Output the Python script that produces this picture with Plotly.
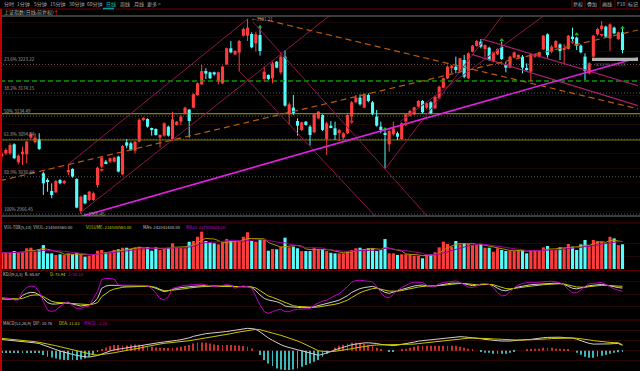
import plotly.graph_objects as go
import pandas as pd

# ---------------- data ----------------
opens = [3064.9, 3070.6, 3070.6, 3086.1, 3055.2, 3068.9, 3068.9, 3097.5, 3089.5, 3095.2,
         3036.3, 3024.3, 3006.0, 3003.7, 3024.9, 3019.1, 3038.0, 3043.8, 3026.6, 2971.6,
         2999.1, 2990.5, 2990.5, 3016.3, 3047.7, 3056.3, 3056.3, 3056.3, 3064.9, 3034.6,
         3089.5, 3087.8, 3075.2, 3090.7, 3127.9, 3129.6, 3113.6, 3112.4, 3097.5, 3101.0,
         3116.4, 3095.2, 3119.3, 3125.0, 3139.3, 3145.6, 3149.0, 3170.8, 3189.1, 3212.0,
         3209.7, 3209.7, 3194.8, 3190.8, 3223.4, 3250.9, 3240.6, 3243.4, 3272.6, 3272.6,
         3275.5, 3259.5, 3273.8, 3198.2, 3205.1, 3199.4, 3228.0, 3209.7, 3236.6, 3137.6,
         3149.0, 3126.1, 3110.7, 3125.0, 3116.4, 3106.7, 3130.7,
         3136.4, 3095.2, 3118.1, 3113.6, 3105.0, 3097.5, 3105.0, 3133.6, 3158.2, 3166.2,
         3149.0, 3170.8, 3158.2, 3133.6, 3116.4, 3105.0, 3086.1, 3103.3, 3105.0, 3095.2,
         3125.0, 3135.3, 3137.6, 3150.7, 3160.5, 3149.0, 3158.2, 3147.9, 3165.0, 3183.3,
         3199.4, 3216.6, 3219.4, 3210.8, 3230.8, 3199.4, 3245.2, 3254.9, 3262.3, 3249.7,
         3252.0, 3228.0, 3240.6, 3253.7, 3222.3, 3217.7, 3234.9, 3234.9, 3236.6, 3216.6,
         3210.8, 3236.6, 3236.6, 3249.2, 3274.9, 3245.2, 3252.0, 3257.7, 3248.0, 3249.7,
         3270.9, 3269.2, 3255.5, 3236.6, 3208.0, 3236.6, 3274.9, 3284.1, 3288.1, 3268.0,
         3286.4, 3266.9, 3278.4]
highs = [3076.4, 3079.2, 3087.8, 3087.8, 3068.9, 3082.1, 3091.8, 3106.7, 3105.0, 3105.0,
         3039.2, 3027.7, 3019.1, 3024.9, 3026.6, 3024.9, 3050.6, 3044.9, 3027.7, 2998.0,
         3000.2, 3006.0, 3004.8, 3047.7, 3064.9, 3059.2, 3063.2, 3064.9, 3066.6, 3084.9,
         3095.2, 3090.7, 3091.8, 3130.7, 3133.0, 3130.7, 3114.7, 3113.6, 3103.3, 3123.8,
         3118.1, 3142.2, 3126.1, 3136.4, 3150.7, 3146.7, 3173.6, 3192.5, 3222.3, 3216.6,
         3210.8, 3210.8, 3210.8, 3221.1, 3252.0, 3263.5, 3248.0, 3265.2, 3286.4, 3301.2,
         3278.4, 3279.5, 3288.1, 3219.4, 3206.2, 3228.0, 3229.1, 3244.0, 3248.0, 3158.2,
         3170.8, 3130.7, 3125.0, 3126.1, 3119.3, 3139.3, 3143.3,
         3137.6, 3125.0, 3126.1, 3125.0, 3112.4, 3106.7, 3137.6, 3160.5, 3170.8, 3171.9,
         3173.6, 3173.6, 3160.5, 3145.0, 3125.0, 3113.6, 3113.6, 3125.0, 3107.8, 3123.8,
         3139.3, 3145.0, 3150.7, 3162.2, 3162.2, 3158.2, 3160.5, 3169.6, 3186.8, 3200.5,
         3221.1, 3222.3, 3236.6, 3234.9, 3239.4, 3244.0, 3256.6, 3265.2, 3266.9, 3257.7,
         3253.7, 3245.2, 3250.9, 3262.3, 3228.0, 3238.3, 3245.2, 3240.6, 3239.4, 3225.1,
         3242.3, 3242.3, 3245.2, 3273.8, 3276.6, 3256.6, 3265.2, 3259.5, 3257.7, 3273.8,
         3286.4, 3270.9, 3257.7, 3242.3, 3226.8, 3273.8, 3286.4, 3297.8, 3289.8, 3293.8,
         3288.1, 3279.5, 3286.4]
lows = [3056.3, 3067.8, 3067.8, 3060.9, 3051.8, 3050.6, 3053.5, 3095.2, 3087.8, 3076.4,
        2999.1, 3004.8, 2993.4, 3002.5, 3017.4, 3017.4, 3033.4, 3028.9, 2976.2, 2966.5,
        2983.1, 2988.8, 2988.8, 3011.7, 3044.9, 3051.8, 3054.0, 3055.2, 3038.0, 3033.4,
        3079.2, 3074.6, 3070.6, 3089.5, 3126.1, 3114.7, 3101.0, 3101.0, 3080.4, 3099.2,
        3099.2, 3091.8, 3118.1, 3119.3, 3137.6, 3097.5, 3147.9, 3169.6, 3187.9, 3198.2,
        3198.2, 3203.9, 3189.1, 3189.7, 3222.3, 3242.3, 3239.4, 3210.8, 3270.9, 3263.5,
        3250.9, 3245.2, 3238.3, 3194.8, 3196.5, 3190.8, 3216.6, 3206.2, 3150.7, 3119.3,
        3136.4, 3101.0, 3109.0, 3118.1, 3083.8, 3105.0, 3129.6,
        3109.0, 3067.8, 3113.6, 3093.5, 3091.8, 3095.2, 3103.3, 3122.1, 3156.5, 3152.5,
        3147.9, 3158.2, 3136.4, 3116.4, 3105.0, 3043.8, 3073.5, 3101.0, 3093.5, 3094.1,
        3119.3, 3133.6, 3136.4, 3149.0, 3139.3, 3146.7, 3137.6, 3146.7, 3163.9, 3182.2,
        3198.2, 3208.0, 3208.0, 3209.7, 3199.4, 3198.2, 3244.0, 3253.7, 3250.9, 3234.9,
        3229.1, 3226.8, 3239.4, 3230.8, 3209.7, 3216.6, 3233.7, 3233.7, 3208.0, 3212.0,
        3194.8, 3234.9, 3234.9, 3248.0, 3234.9, 3242.3, 3250.9, 3230.8, 3225.1, 3248.6,
        3263.5, 3248.0, 3242.3, 3196.5, 3206.2, 3234.9, 3272.6, 3280.6, 3269.2, 3246.3,
        3274.9, 3265.2, 3242.3]
closes = [3070.6, 3076.4, 3084.9, 3062.1, 3066.6, 3073.5, 3090.7, 3103.3, 3097.5, 3078.1,
          3019.1, 3022.6, 2999.1, 3023.1, 3019.1, 3023.1, 3042.0, 3030.6, 2977.4, 2996.2,
          2984.8, 3004.8, 3002.0, 3046.0, 3063.2, 3053.5, 3062.1, 3063.2, 3039.2, 3083.2,
          3083.8, 3076.4, 3090.7, 3127.9, 3130.7, 3116.4, 3110.7, 3102.1, 3102.1, 3122.1,
          3101.0, 3129.0, 3125.0, 3133.6, 3149.0, 3126.1, 3171.9, 3190.8, 3212.0, 3207.4,
          3199.4, 3206.2, 3209.7, 3219.4, 3250.9, 3244.0, 3246.3, 3263.5, 3284.1, 3286.4,
          3252.6, 3274.9, 3246.3, 3210.8, 3198.2, 3225.1, 3217.7, 3236.6, 3152.5, 3154.7,
          3139.3, 3118.1, 3123.8, 3119.3, 3102.1, 3137.6, 3142.2,
          3110.7, 3122.1, 3114.7, 3102.1, 3110.7, 3105.0, 3136.4, 3158.2, 3166.2, 3154.7,
          3171.9, 3160.5, 3137.6, 3118.1, 3110.7, 3103.3, 3109.0, 3113.6, 3099.2, 3122.1,
          3137.6, 3143.3, 3149.6, 3160.5, 3141.0, 3156.5, 3139.3, 3167.9, 3185.1, 3199.4,
          3219.4, 3221.1, 3213.7, 3233.7, 3202.2, 3242.3, 3255.5, 3263.5, 3253.7, 3256.6,
          3230.8, 3244.0, 3249.7, 3232.6, 3217.7, 3236.6, 3244.0, 3239.4, 3217.7, 3213.7,
          3240.6, 3240.6, 3244.0, 3272.6, 3239.4, 3253.7, 3263.5, 3246.3, 3250.9, 3272.6,
          3268.0, 3255.5, 3244.0, 3212.0, 3225.1, 3272.6, 3284.1, 3289.8, 3270.9, 3292.1,
          3276.6, 3278.4, 3248.0]
# volume in units of 1e8 shares
volumes = [1.41, 1.41, 1.41, 1.56, 1.41, 1.50, 1.80, 1.85, 1.50, 1.71,
           2.08, 1.36, 1.36, 1.22, 1.28, 1.22, 1.36, 1.28, 1.41, 1.28,
           1.07, 1.15, 1.28, 1.59, 1.65, 1.45, 1.50, 1.65, 1.71, 1.85,
           1.85, 1.74, 1.88, 1.94, 1.80, 1.88, 1.59, 1.88, 1.65, 1.80,
           1.85, 2.23, 1.88, 1.88, 1.80, 2.37, 2.43, 2.80, 3.24, 2.43,
           2.32, 2.23, 2.14, 2.32, 2.60, 2.43, 2.37, 2.43, 2.80, 3.19,
           2.43, 2.37, 2.60, 2.52, 1.59, 1.74, 1.71, 1.94, 2.72, 1.88,
           1.94, 1.80, 1.56, 1.56, 1.56, 1.85, 1.71,
           1.71, 1.56, 1.41, 1.36, 1.36, 1.36, 1.56, 1.65, 1.80, 1.85,
           1.71, 1.80, 1.80, 1.56, 1.65, 2.60, 1.36, 1.36, 1.22, 1.28,
           1.28, 1.28, 1.15, 1.15, 0.93, 1.28, 1.28, 1.45, 1.88, 2.37,
           2.17, 1.94, 2.43, 2.14, 2.23, 2.17, 2.08, 2.08, 2.14, 1.85,
           1.85, 1.50, 1.80, 1.65, 1.56, 1.56, 1.56, 1.65, 1.65, 1.36,
           1.65, 1.56, 1.56, 1.88, 2.00, 1.65, 1.65, 1.88, 1.85, 2.17,
           1.94, 1.65, 2.14, 2.52, 2.03, 2.52, 2.43, 2.37, 2.23, 2.80,
           2.66, 2.08, 2.145]
k_vals = [34.4, 34.4, 35.4, 33.3, 33.3, 45.8, 52.1, 55.2, 54.2, 46.9,
          36.5, 22.9, 18.7, 18.7, 19.8, 20.8, 22.9, 18.7, 14.6, 12.5,
          14.6, 15.6, 22.9, 36.5, 67.7, 75.0, 77.1, 78.1, 77.1, 75.0,
          75.0, 73.9, 73.9, 75.0, 76.0, 75.0, 72.9, 67.7, 60.4, 57.3,
          60.4, 64.6, 67.7, 69.8, 71.9, 72.9, 73.9, 75.0, 76.0, 76.0,
          75.0, 73.9, 75.0, 75.0, 76.0, 76.0, 72.9, 72.9, 73.9, 72.9,
          70.8, 60.4, 46.9, 36.5, 31.3, 29.2, 26.0, 20.8, 12.5, 10.4,
          8.3, 8.3, 7.3, 7.3, 7.3, 10.4, 13.5,
          16, 19, 23, 27, 31, 37, 45, 55, 62, 67, 70, 73, 74, 70, 62,
          55, 52, 55, 60, 64, 68, 72, 75, 77, 78, 76, 74, 75, 78, 80,
          82, 84, 85, 84, 82, 78, 76, 78, 80, 81, 80, 76, 68, 62, 60,
          63, 68, 72, 75, 77, 79, 80, 81, 82, 83, 84, 84, 83, 80, 74,
          68, 66, 68, 72, 76, 78, 79, 80, 78, 75, 72, 70, 68.67]
d_vals = [37.5, 36.5, 36.5, 35.4, 34.4, 36.5, 41.7, 45.8, 46.9, 46.9,
          41.7, 33.3, 27.1, 24.0, 22.9, 21.9, 21.9, 20.8, 18.7, 16.7,
          16.7, 16.7, 18.7, 22.9, 41.7, 52.1, 60.4, 65.6, 68.8, 70.8,
          71.9, 72.9, 72.9, 73.9, 73.9, 73.9, 72.9, 70.8, 64.6, 60.4,
          60.4, 61.5, 62.5, 64.6, 66.7, 68.8, 70.8, 71.9, 72.9, 73.9,
          73.9, 73.9, 73.9, 73.9, 75.0, 75.0, 73.9, 73.9, 73.9, 72.9,
          71.9, 68.8, 60.4, 52.1, 43.8, 39.6, 34.4, 29.2, 22.9, 17.7,
          13.5, 11.5, 10.4, 9.4, 8.3, 8.3, 9.4,
          11, 13, 15, 18, 21, 25, 31, 39, 47, 54, 59, 64, 67, 68, 66,
          62, 59, 58, 59, 61, 63, 66, 69, 72, 74, 75, 75, 75, 76, 77,
          79, 81, 82, 83, 83, 81, 79, 79, 79, 80, 80, 79, 75, 71, 67,
          66, 67, 69, 71, 73, 75, 77, 78, 79, 80, 81, 82, 82, 81, 79,
          75, 72, 71, 71, 73, 75, 76, 77, 77, 76, 75, 74.5, 73.94]
j_vals = [39.6, 36.5, 36.5, 31.3, 31.3, 57.3, 70.8, 75.0, 72.9, 57.3,
          26.0, 0.0, -5.2, 0.0, 10.4, 20.8, 26.0, 12.5, 5.2, 5.2,
          10.4, 12.5, 36.5, 57.3, 95.8, 98.9, 97.9, 96.9, 78.1, 78.1,
          77.1, 76.0, 76.0, 76.0, 77.1, 75.0, 67.7, 52.1, 36.5, 31.3,
          41.7, 67.7, 70.8, 75.0, 77.1, 78.1, 79.2, 81.3, 81.3, 78.1,
          75.0, 72.9, 75.0, 77.1, 79.2, 77.1, 67.7, 72.9, 75.0, 72.9,
          67.7, 41.7, 15.6, -5.2, -10.4, -5.2, 0.0, 2.1, -5.2, -5.2,
          0.0, 2.1, 2.1, 3.1, 4.2, 15.6, 22.9,
          28, 31, 39, 45, 51, 61, 73, 87, 92, 93, 92, 91, 88, 74, 54,
          41, 38, 49, 62, 70, 78, 84, 87, 87, 86, 78, 72, 75, 82, 86,
          88, 90, 91, 86, 80, 72, 70, 76, 82, 83, 80, 70, 54, 44, 46,
          57, 70, 78, 83, 85, 87, 86, 87, 88, 89, 90, 88, 85, 78, 64,
          54, 54, 62, 74, 82, 84, 85, 86, 80, 73, 66, 62, 58.13]
dif_vals = [22.4, 21.7, 21.1, 20.4, 19.7, 18.4, 17.7, 16.4, 15.7, 14.4,
            11.1, 7.4, 5.3, 2.3, -0.7, -3.3, -5.3, -7.3, -9.3, -11.3,
            -12.3, -12.6, -11.7, -9.6, -6.7, -3.3, -0.6, 1.7, 3.1, 4.0,
            5.3, 7.4, 9.0, 10.7, 12.0, 13.4, 14.7, 15.3, 16.4, 17.4,
            18.1, 19.7, 20.7, 22.0, 23.4, 25.7, 28.7, 31.0, 32.3, 34.0,
            34.7, 35.0, 35.7, 37.1, 38.4, 39.7, 41.3, 42.7, 44.1, 44.7,
            44.3, 42.7, 37.7, 30.7, 25.4, 20.7, 15.7, 12.0, 8.7, 6.1,
            4.0, 1.7, 0.0, -2.3, -4.7, -7.0, -9.3,
            -7.2, -4.8, -1.8, 1.8, 4.8, 7.0, 9.4, 12.0, 13.6, 15.2,
            15.6, 15.8, 15.8, 14.4, 12.6, 11.6, 10.4, 10.2, 11.2, 12.4,
            13.8, 15.4, 17.2, 19.2, 20.2, 21.2, 22.2, 23.2, 24.2, 25.2,
            26.2, 27.2, 28.2, 28.0, 27.6, 27.0, 26.2, 25.2, 24.0, 22.6,
            22.2, 20.6, 20.0, 19.4, 18.8, 19.4, 20.2, 21.2, 21.2, 22.4,
            22.6, 24.0, 24.4, 26.0, 26.6, 27.2, 26.6, 27.0, 26.2, 26.4,
            25.4, 23.0, 20.2, 17.0, 14.6, 13.2, 13.0, 13.0, 13.2, 13.6,
            14.2, 14.4, 10.76]
dea_vals = [24.7, 24.0, 23.4, 22.7, 22.0, 20.7, 20.0, 18.7, 18.0, 16.7,
            15.4, 13.4, 12.0, 10.0, 8.0, 6.0, 4.0, 2.0, 0.0, -2.6,
            -4.6, -6.6, -8.0, -8.6, -8.0, -6.6, -5.3, -4.0, -2.6, -1.3,
            0.0, 1.4, 2.7, 4.7, 6.7, 8.7, 10.7, 12.0, 13.4, 14.7,
            15.4, 16.7, 17.4, 18.0, 18.7, 20.0, 21.4, 22.7, 24.0, 26.0,
            27.4, 28.7, 30.0, 31.4, 32.7, 34.0, 36.0, 37.4, 39.4, 40.7,
            42.0, 42.7, 42.0, 40.0, 38.1, 36.0, 33.4, 30.7, 28.0, 25.4,
            22.7, 19.4, 16.0, 12.0, 8.0, 4.0, 0.0,
            -1.2, -1.8, -1.8, -1.2, -0.2, 1.0, 2.4, 4.0, 5.6, 7.2,
            8.6, 9.8, 10.8, 11.4, 11.6, 11.6, 11.4, 11.2, 11.2, 11.4,
            11.8, 12.4, 13.2, 14.2, 15.2, 16.2, 17.2, 18.2, 19.2, 20.2,
            21.2, 22.2, 23.2, 24.0, 24.6, 25.0, 25.2, 25.2, 25.0, 24.6,
            24.2, 23.6, 23.0, 22.4, 21.8, 21.4, 21.2, 21.2, 21.2, 21.4,
            21.6, 22.0, 22.4, 23.0, 23.6, 24.2, 24.6, 25.0, 25.2, 25.4,
            25.4, 25.0, 24.2, 23.0, 21.6, 20.2, 19.0, 18.0, 17.2, 16.6,
            16.2, 15.9, 11.83]

# drawn analysis lines: (start index, start price, end index, end price)
magenta_trend = [(19, 2962.0, 152.7, 3234.8)]
orange_dashed = [(-0.4, 3023.6, 152.7, 3282.3), (61.5, 3302.9, 152.7, 3147.0)]
channel_lines = [(16.0, 3051.8, 59.2, 3302.4), (19.2, 2970.4, 78.5, 3306.0),
                 (57.2, 3210.7, 89.6, 2963.0), (60.3, 3296.1, 102.1, 2963.0),
                 (92.0, 3043.7, 120.0, 3305.2), (95.6, 3124.9, 129.8, 3305.2)]
down_channel = [(115.2, 3266.9, 152.7, 3186.7), (112.8, 3240.6, 152.7, 3152.4)]
fib_levels = [3223.22, 3174.15, 3134.49, 3094.84, 3030.44, 2966.45]
fib_labels = ["23.6% 3223.22", "38.2% 3174.15", "50% 3134.49", "61.8% 3094.84",
              "80.9% 3030.44", "100% 2966.45"]
green_level = 3194.8
yellow_levels = [3138.6, 3093.5]
buy_idx = [24, 84, 97, 137, 144]
buy_price = [3042.0, 3125.0, 3120.4, 3261.2, 3273.8]
sell_idx = [62, 92, 120, 138, 149]
sell_price = [3288.1, 3112.4, 3265.2, 3274.9, 3286.4]

tabs = ["分时", "1分钟", "5分钟", "15分钟", "30分钟", "60分钟", "日线", "周线", "月线", "更多 >"]
tab_x = [2, 15, 32, 48, 67, 85, 104, 118, 132, 145]
buttons = ["复权", "叠加", "画线", "F10", "标记"]
button_x = [578, 592, 607, 621, 633]

# ---------------- figure ----------------
W, H = 640, 371
UP, DN = "#ff3c3c", "#54fcfc"
XR = [-0.41, 153.2]
n = len(closes)
idx = list(range(n))
is_up = [c >= o for o, c in zip(opens, closes)]
FONT = "Noto Sans CJK SC, DejaVu Sans"

fig = go.Figure()

def add_line(x, y, color, width=1, dash="solid", yaxis="y"):
    fig.add_trace(go.Scatter(x=x, y=y, mode="lines", yaxis=yaxis, hoverinfo="skip",
                             line=dict(color=color, width=width, dash=dash)))

# fib / level lines
for lv in fib_levels:
    add_line(XR, [lv, lv], "#6e6e6e", 0.8, "1px,2px")
add_line(XR, [green_level, green_level], "#009a00", 1.5, "5px,3px")
add_line(XR, [yellow_levels[0]] * 2, "#a8a800", 1)
add_line(XR, [yellow_levels[1]] * 2, "#7a7a00", 1)

# candles: wicks + bodies
for flag, col in ((True, UP), (False, DN)):
    xs, ys = [], []
    for i in idx:
        if is_up[i] == flag:
            xs += [i, i, None]
            ys += [lows[i], highs[i], None]
    add_line(xs, ys, col, 1)
    sel = [i for i in idx if is_up[i] == flag]
    fig.add_trace(go.Bar(x=sel, base=[min(opens[i], closes[i]) for i in sel],
                         y=[max(abs(closes[i] - opens[i]), 0.9) for i in sel],
                         width=0.75, marker=dict(color=col, line=dict(width=0)),
                         hoverinfo="skip", yaxis="y"))

# drawn lines
for x0, p0, x1, p1 in channel_lines:
    add_line([x0, x1], [p0, p1], "#8c1450", 1)
for x0, p0, x1, p1 in down_channel:
    add_line([x0, x1], [p0, p1], "#a8206e", 1.2)
for x0, p0, x1, p1 in orange_dashed:
    add_line([x0, x1], [p0, p1], "#b85a10", 1.2, "6px,4px")
for x0, p0, x1, p1 in magenta_trend:
    add_line([x0, x1], [p0, p1], "#e020e0", 1.6)

fig.add_trace(go.Scatter(x=buy_idx, y=buy_price, mode="markers", hoverinfo="skip",
                         marker=dict(symbol="triangle-down", size=4, color="#ff2020")))
fig.add_trace(go.Scatter(x=sell_idx, y=sell_price, mode="markers", hoverinfo="skip",
                         marker=dict(symbol="triangle-up", size=4, color="#10c010")))

# volume
vol_s = pd.Series(volumes)
fig.add_trace(go.Bar(x=idx, y=volumes, width=0.75, yaxis="y2", hoverinfo="skip",
                     marker=dict(color=[UP if u else DN for u in is_up], line=dict(width=0))))
add_line(idx, vol_s.rolling(5, min_periods=1).mean().tolist(), "#b09000", 1, yaxis="y2")
add_line(idx, vol_s.rolling(10, min_periods=1).mean().tolist(), "#a000a0", 1, yaxis="y2")

# KDJ
add_line(idx, k_vals, "#d0d0d0", 1, yaxis="y3")
add_line(idx, d_vals, "#c8c800", 1, yaxis="y3")
add_line(idx, j_vals, "#c000c0", 1, yaxis="y3")

# MACD
hist = [2 * (a - b) for a, b in zip(dif_vals, dea_vals)]
fig.add_trace(go.Bar(x=idx, y=hist, width=0.2, yaxis="y4", hoverinfo="skip",
                     marker=dict(color=["#c83030" if h >= 0 else "#38b8b8" for h in hist],
                                 line=dict(width=0))))
add_line(idx, dif_vals, "#d0d0d0", 1, yaxis="y4")
add_line(idx, dea_vals, "#c8c800", 1, yaxis="y4")

def fy(py):
    return 1 - py / H

ax = dict(showticklabels=False, zeroline=False, showline=False, fixedrange=True)
fig.update_layout(
    width=W, height=H, margin=dict(l=0, r=0, t=0, b=0),
    paper_bgcolor="black", plot_bgcolor="black", showlegend=False,
    barmode="overlay", font=dict(family=FONT, color="#b0b0b0", size=5),
    xaxis=dict(range=XR, domain=[0, 1], showgrid=False, **ax),
    yaxis=dict(range=[2963.02, 3306.36], domain=[fy(216), fy(16)], showgrid=True,
               gridcolor="#1c0505", tick0=2970, dtick=25, **ax),
    yaxis2=dict(range=[0, 3.30], domain=[fy(269), fy(231)], anchor="x", showgrid=True,
                gridcolor="#220606", dtick=1.1, **ax),
    yaxis3=dict(range=[-28.1, 109.4], domain=[fy(319), fy(275)], anchor="x", showgrid=True,
                gridcolor="#220606", tick0=10, dtick=40, **ax),
    yaxis4=dict(range=[-40.6, 49.4], domain=[0, fy(326)], anchor="x", showgrid=True,
                gridcolor="#2a0606", tick0=0, dtick=20, **ax),
)

shapes = []
def hline(py, color, x0=0, x1=W, width=1):
    shapes.append(dict(type="line", xref="paper", yref="paper", x0=x0 / W, x1=x1 / W,
                       y0=fy(py), y1=fy(py), line=dict(color=color, width=width)))
hline(9, "#6a0000")
hline(16, "#777777")
hline(216, "#777777")
hline(223, "#5a0000")
hline(270.5, "#5a0000")
hline(320, "#5a0000")
shapes.append(dict(type="line", xref="paper", yref="paper", x0=1 / W, x1=1 / W,
                   y0=0, y1=fy(9), line=dict(color="#c00000", width=2)))
for bx in [572, 585, 600, 615, 627]:
    shapes.append(dict(type="line", xref="paper", yref="paper", x0=bx / W, x1=bx / W,
                       y0=fy(9), y1=1, line=dict(color="#6a0000", width=1)))
shapes.append(dict(type="line", xref="paper", yref="paper", x0=103 / W, x1=114 / W,
                   y0=fy(8.5), y1=fy(8.5), line=dict(color="#00a0a0", width=1.5)))
shapes.append(dict(type="rect", xref="paper", yref="paper", x0=592 / W, x1=638 / W,
                   y0=fy(61), y1=fy(57.7), fillcolor="#b0b0b0", line=dict(width=0)))
fig.update_layout(shapes=shapes)

ann = []
def txt(s, px, py, color="#b0b0b0", size=5, anchor="left"):
    ann.append(dict(text=s, x=px / W, y=fy(py), xref="paper", yref="paper",
                    xanchor=anchor, yanchor="middle", showarrow=False,
                    font=dict(size=size, color=color, family=FONT)))
for t, x in zip(tabs, tab_x):
    txt(t, x, 4, "#00c0c0" if t == "日线" else "#a8a8a8")
for t, x in zip(buttons, button_x):
    txt(t, x, 4, "#b0b0b0", anchor="center")
txt("上证指数(日线,前复权)", 2, 12.5, "#b8b8b8")
txt("↑", 51, 12.5, "#ff2020", 6)
for lab, lv in zip(fib_labels, fib_levels):
    ann.append(dict(text=lab, x=0.003, y=lv, xref="paper", yref="y", xanchor="left",
                    yanchor="bottom", showarrow=False,
                    font=dict(size=4.5, color="#a0a0a0", family=FONT)))
txt("←3301.21", 250, 19.5, "#a0a0a0", 4.5)
txt("←2966.45", 82, 213.5, "#a0a0a0", 4.5)
txt("3233.96  3223.24", 593, 64.5, "#707070", 4)
txt("VOL-TDX(5,10)  VVOL: 214508560.00", 2, 227, "#c0c0c0", 4.2)
txt("VOLUME: 214508560.00", 84, 227, "#d0d000", 4.2)
txt("MA5: 241041408.00", 141, 227, "#c0c0c0", 4.2)
txt("MA10: 237858624.00", 184, 227, "#d000d0", 4.2)
txt("KDJ(9,3,3)  K: 68.67", 1, 273.5, "#c0c0c0", 4.2)
txt("D: 73.94", 48, 273.5, "#d0d000", 4.2)
txt("J: 58.13", 66, 273.5, "#d000d0", 4.2)
txt("MACD(12,26,9)  DIF: 10.76", 1, 323, "#c0c0c0", 4.2)
txt("DEA: 11.83", 57, 323, "#d0d000", 4.2)
txt("MACD: -2.15", 82, 323, "#d000d0", 4.2)
fig.update_layout(annotations=ann)

fig.write_html("out.html", config={"displayModeBar": False},
               post_script="document.body.style.margin='0';")
